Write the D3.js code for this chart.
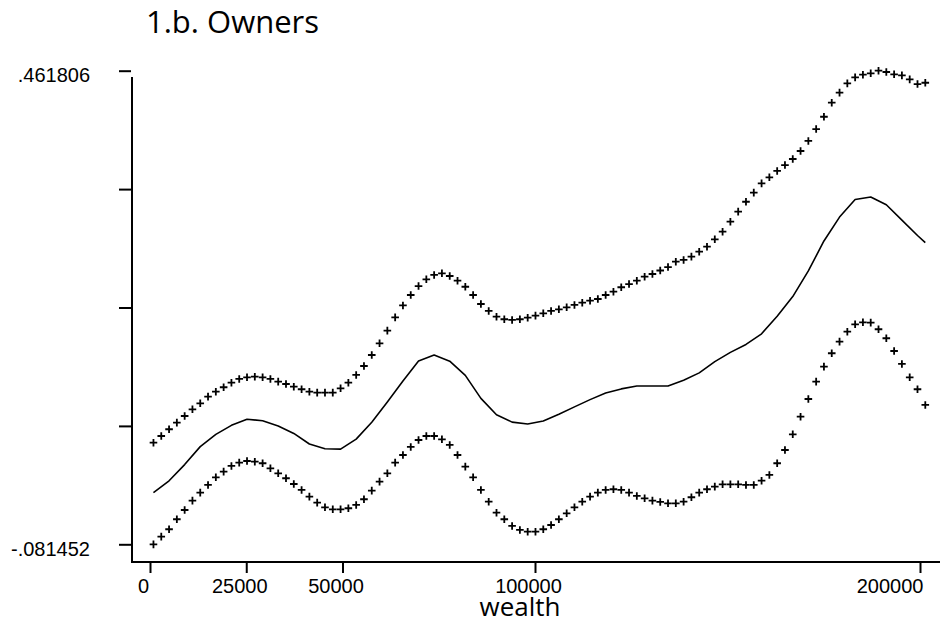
<!DOCTYPE html>
<html lang="en">
<head>
  <meta charset="UTF-8">
  <title>1.b. Owners</title>
  <style>
    body { margin: 0; background: #fff; }
    #chart { width: 940px; height: 620px; display: block; }
    .tick-label { font-family: "Liberation Sans", Arial, sans-serif; font-size: 20px; fill: #000; }
    .title { font-family: "Open Sans", sans-serif; font-size: 31px; fill: #000; }
    .xtitle { font-family: "Open Sans", sans-serif; font-size: 26px; fill: #000; }
  </style>
</head>
<body>
  <script src="https://d3js.org/d3.v7.min.js"></script>
  <svg id="chart"></svg>
  <script>
    // evaluation grid (wealth) for the confidence bands
    const wealth = [900, 2925, 4950, 6975, 9000, 11025, 13050, 15075, 17100, 19125,
      21150, 23175, 25200, 27225, 29250, 31275, 33300, 35325, 37350, 39375,
      41400, 43425, 45450, 47475, 49500, 51525, 53550, 55575, 57600, 59625,
      61650, 63675, 65700, 67725, 69750, 71775, 73800, 75825, 77850, 79875,
      81900, 83925, 85950, 87975, 90000, 92025, 94050, 96075, 98100, 100125,
      102150, 104175, 106200, 108225, 110250, 112275, 114300, 116325, 118350, 120375,
      122400, 124425, 126450, 128475, 130500, 132525, 134550, 136575, 138600, 140625,
      142650, 144675, 146700, 148725, 150750, 152775, 154800, 156825, 158850, 160875,
      162900, 164925, 166950, 168975, 171000, 173025, 175050, 177075, 179100, 181125,
      183150, 185175, 187200, 189225, 191250, 193275, 195300, 197325, 199350, 201375]

    const upper = [0.0351, 0.0428, 0.0505, 0.0581, 0.0657, 0.0734, 0.0803, 0.0879, 0.0936, 0.0987,
      0.1039, 0.1082, 0.1101, 0.1108, 0.1101, 0.1082, 0.1051, 0.1024, 0.0993, 0.0964,
      0.0936, 0.0925, 0.0925, 0.0925, 0.0975, 0.1039, 0.1128, 0.1231, 0.1357, 0.1491,
      0.1636, 0.1789, 0.1925, 0.2045, 0.2148, 0.2225, 0.2275, 0.2294, 0.2263, 0.2209,
      0.2140, 0.2045, 0.1942, 0.1862, 0.1796, 0.1767, 0.1759, 0.1767, 0.1785, 0.1808,
      0.1835, 0.1862, 0.1881, 0.1904, 0.1931, 0.1957, 0.1980, 0.1999, 0.2045, 0.2083,
      0.2134, 0.2171, 0.2209, 0.2255, 0.2286, 0.2326, 0.2366, 0.2427, 0.2447, 0.2485,
      0.2542, 0.2599, 0.2684, 0.2771, 0.2886, 0.3001, 0.3115, 0.3219, 0.3326, 0.3395,
      0.3468, 0.3536, 0.3605, 0.3697, 0.3812, 0.3949, 0.4090, 0.4251, 0.4366, 0.4473,
      0.4542, 0.4572, 0.4588, 0.4618, 0.4603, 0.4577, 0.4565, 0.4519, 0.4465, 0.4480]

    const lower = [-0.0815, -0.0727, -0.0642, -0.0527, -0.0421, -0.0314, -0.0222, -0.0134, -0.0046, 0.0019,
      0.0084, 0.0122, 0.0141, 0.0133, 0.0115, 0.0057, 0.0000, -0.0057, -0.0123, -0.0191,
      -0.0268, -0.0337, -0.0390, -0.0413, -0.0413, -0.0401, -0.0363, -0.0298, -0.0199, -0.0096,
      0.0000, 0.0122, 0.0210, 0.0302, 0.0382, 0.0428, 0.0428, 0.0390, 0.0325, 0.0210,
      0.0076, -0.0046, -0.0191, -0.0326, -0.0452, -0.0527, -0.0604, -0.0650, -0.0670, -0.0670,
      -0.0642, -0.0593, -0.0527, -0.0459, -0.0390, -0.0326, -0.0268, -0.0222, -0.0191, -0.0183,
      -0.0191, -0.0222, -0.0260, -0.0287, -0.0314, -0.0329, -0.0344, -0.0344, -0.0326, -0.0275,
      -0.0222, -0.0183, -0.0153, -0.0126, -0.0126, -0.0126, -0.0134, -0.0134, -0.0085, -0.0019,
      0.0115, 0.0267, 0.0447, 0.0649, 0.0852, 0.1051, 0.1223, 0.1377, 0.1510, 0.1624,
      0.1709, 0.1732, 0.1728, 0.1652, 0.1549, 0.1403, 0.1254, 0.1101, 0.0964, 0.0784]

    // point estimate (solid line)
    const lineWealth = [900, 4950, 9000, 13050, 17100, 21150, 25200, 29250, 33300, 37350,
      41400, 45450, 49500, 53550, 57600, 61650, 65700, 69750, 73800, 77850,
      81900, 85950, 90000, 94050, 98100, 102150, 106200, 110250, 114300, 118350,
      122400, 126450, 130500, 134550, 138600, 142650, 146700, 150750, 154800, 158850,
      162900, 166950, 171000, 175050, 179100, 183150, 187200, 191250, 195300, 199350,
      201375]
    const estimate = [-0.0222, -0.0086, 0.0100, 0.0306, 0.0446, 0.0550, 0.0620, 0.0603, 0.0543, 0.0457,
      0.0336, 0.0282, 0.0277, 0.0392, 0.0586, 0.0818, 0.1059, 0.1287, 0.1356, 0.1286,
      0.1123, 0.0859, 0.0672, 0.0587, 0.0566, 0.0600, 0.0677, 0.0762, 0.0845, 0.0922,
      0.0968, 0.1002, 0.1002, 0.1002, 0.1068, 0.1152, 0.1281, 0.1387, 0.1478, 0.1600,
      0.1802, 0.2027, 0.2321, 0.2665, 0.2939, 0.3140, 0.3169, 0.3080, 0.2904, 0.2728,
      0.2645]

    const xTicks = [0, 25000, 50000, 100000, 200000]
    const yTicks = [-0.081452, 0.054362, 0.190177, 0.325991, 0.461806]
    const yTickLabels = ['-.081452', '', '', '', '.461806']

    let svg = d3.select('#chart')
    let x = d3.scaleLinear().domain([0, 200000]).range([150, 920])
    let y = d3.scaleLinear().domain([-0.081452, 0.461806]).range([544.3, 70.7])

    // title
    svg.append('text').attr('class', 'title')
      .attr('x', 146).attr('y', 33)
      .text('1.b. Owners')

    // axis lines
    svg.append('line')
      .attr('x1', 132).attr('x2', 132).attr('y1', 77).attr('y2', 563)
      .attr('stroke', '#000').attr('stroke-width', 2)
    svg.append('line')
      .attr('x1', 131).attr('x2', 940).attr('y1', 562).attr('y2', 562)
      .attr('stroke', '#000').attr('stroke-width', 2)

    // y axis ticks
    let yAxis = d3.axisLeft(y)
      .tickValues(yTicks)
      .tickSize(12)
      .tickPadding(29)
      .tickFormat((d, i) => yTickLabels[i])
    let gy = svg.append('g').attr('transform', 'translate(131,0)').call(yAxis)
    gy.select('.domain').remove()
    gy.selectAll('line').attr('stroke', '#000').attr('stroke-width', 2)
    gy.selectAll('text').attr('class', 'tick-label').attr('dy', '0.55em')
      .attr('font-family', null).attr('font-size', null)
    gy.attr('font-family', null).attr('font-size', null)

    // x axis ticks
    let xAxis = d3.axisBottom(x)
      .tickValues(xTicks)
      .tickSize(10)
      .tickFormat(d3.format('d'))
    let gx = svg.append('g').attr('transform', 'translate(0,563)').call(xAxis)
    gx.select('.domain').remove()
    gx.attr('font-family', null).attr('font-size', null)
    gx.selectAll('line').attr('stroke', '#000').attr('stroke-width', 2)
    gx.selectAll('text').attr('class', 'tick-label')
      .attr('y', 30).attr('dy', null)
      .attr('x', function (d) {
        let w = this.getComputedTextLength()
        let cx = x(d) - 7
        return Math.min(cx, 923 - w / 2) - x(d)
      })

    svg.append('text').attr('class', 'xtitle')
      .attr('x', 520).attr('y', 616)
      .attr('text-anchor', 'middle')
      .text('wealth')

    // estimate line
    let lineData = lineWealth.map((w, i) => ({ w: w, v: estimate[i] }))
    let line = d3.line().x(d => x(d.w)).y(d => y(d.v))
    svg.append('path')
      .datum(lineData)
      .attr('d', line)
      .attr('fill', 'none')
      .attr('stroke', '#000')
      .attr('stroke-width', 1.6)
      .attr('stroke-linejoin', 'round')

    // confidence bands as plus markers
    let plus = 'M-3.8,0H3.8M0,-3.8V3.8'
    let bands = [upper, lower]
    bands.forEach(band => {
      svg.append('g').selectAll('path')
        .data(wealth.map((w, i) => ({ w: w, v: band[i] })))
        .enter()
        .append('path')
        .attr('transform', d => 'translate(' + x(d.w) + ',' + y(d.v) + ')')
        .attr('d', plus)
        .attr('stroke', '#000')
        .attr('stroke-width', 1.8)
        .attr('fill', 'none')
    })
  </script>
</body>
</html>
